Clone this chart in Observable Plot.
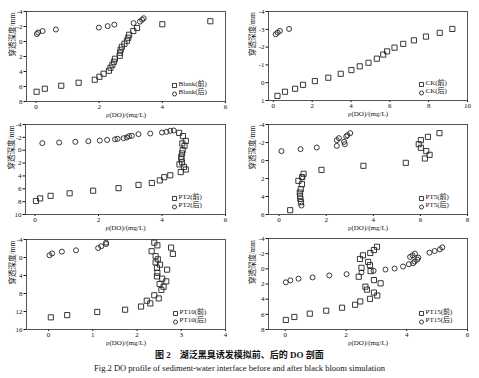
<!DOCTYPE html>
<html><head><meta charset="utf-8">
<script src="https://cdn.jsdelivr.net/npm/d3@7"></script>
<script src="https://cdn.jsdelivr.net/npm/@observablehq/plot@0.6"></script>
<style>
body{margin:0;background:#fff;}
#wrap{position:relative;width:479px;height:378px;background:#fff;overflow:hidden;}
.cap{position:absolute;left:0;width:479px;text-align:center;white-space:nowrap;color:#111;}
</style></head><body>
<div id="wrap"></div>
<script>
// ---- data: DO (mg/L) vs penetration depth (mm) ----
const blankBeforeDO = [0.02,0.28,0.80,1.35,1.86,2.01,2.14,2.31,2.36,2.42,2.47,2.50,2.65,2.66,2.68,2.72,2.80,2.88,2.92,2.95,3.08,3.20,4.00,5.52];
const blankBeforeDepth = [6.7,6.3,5.9,5.5,5.1,4.7,4.3,3.9,3.5,3.1,2.7,2.3,1.9,1.5,1.1,0.7,0.3,-0.1,-0.5,-0.9,-1.4,-1.8,-2.3,-2.7];
const blankAfterDO = [0.03,0.07,0.21,0.63,1.99,2.27,2.48,3.09,3.29,3.36,3.41];
const blankAfterDepth = [-1.0,-1.2,-1.4,-1.6,-1.85,-2.05,-2.25,-2.45,-2.65,-2.9,-3.1];

const ckBeforeDO = [0.21,0.60,1.12,1.53,2.14,2.83,3.47,4.02,4.45,4.90,5.33,5.66,5.86,6.24,6.69,7.24,7.86,8.57,9.22];
const ckBeforeDepth = [0.74,0.51,0.34,0.12,-0.09,-0.28,-0.50,-0.71,-0.92,-1.12,-1.35,-1.58,-1.76,-1.97,-2.18,-2.38,-2.59,-2.80,-3.02];
const ckAfterDO = [0.12,0.22,0.34,0.81];
const ckAfterDepth = [-2.72,-2.82,-2.91,-3.02];

const pt2BeforeDO = [0.03,0.16,0.49,1.09,1.83,2.63,3.26,3.68,3.93,4.07,4.26,4.59,4.75,4.69,4.55,4.63,4.61,4.61,4.63,4.65,4.71,4.64,4.75,4.66,4.54];
const pt2BeforeDepth = [7.9,7.5,7.1,6.7,6.3,5.9,5.4,5.1,4.7,4.2,3.9,3.4,3.0,2.6,2.2,1.9,1.4,1.0,0.5,0.0,-0.7,-1.05,-1.45,-2.2,-2.7];
const pt2AfterDO = [0.23,0.76,1.27,1.68,2.04,2.27,2.52,2.60,2.79,2.89,2.96,3.05,3.26,3.63,4.00,4.14,4.26,4.37];
const pt2AfterDepth = [-1.1,-1.2,-1.3,-1.4,-1.5,-1.6,-1.7,-1.78,-1.87,-1.98,-2.19,-2.24,-2.5,-2.6,-2.76,-2.86,-3.02,-3.07];

const pt5BeforeDO = [0.47,0.93,0.90,0.89,0.88,0.92,0.97,0.82,0.98,1.04,1.80,3.58,5.38,6.19,6.39,6.25,6.02,5.93,6.02,6.32,6.81];
const pt5BeforeDepth = [5.52,4.63,4.26,3.93,3.56,3.19,2.63,2.26,1.85,1.48,1.04,0.59,0.26,-0.22,-0.63,-1.04,-1.41,-1.81,-2.26,-2.63,-3.04];
const pt5AfterDO = [0.10,0.91,1.60,2.45,2.79,2.76,2.45,2.54,2.85,2.90,3.02,0.95,0.98];
const pt5AfterDepth = [-1.04,-1.26,-1.44,-1.63,-1.81,-2.07,-2.26,-2.48,-2.67,-2.81,-3.04,5.0,1.85];

const pt10BeforeDO = [0.05,0.42,1.10,1.73,2.09,2.30,2.22,2.49,2.39,2.55,2.60,2.51,2.57,2.45,2.46,2.45,2.52,2.42,2.47,2.42,2.33,2.46,2.39,2.77,2.81,2.68,2.66];
const pt10BeforeDepth = [13.3,12.8,12.1,11.6,10.9,10.2,9.6,9.1,8.4,7.2,6.5,5.9,4.7,4.2,3.4,2.3,1.6,1.1,0.4,-0.3,-1.4,-2.7,-3.3,-2.2,-0.8,2.7,5.3];
const pt10AfterDO = [0.02,0.08,0.30,0.62,1.12,1.19,1.30,1.30];
const pt10AfterDepth = [-0.5,-0.9,-1.3,-1.6,-2.1,-2.5,-3.0,-3.3];

const pt15BeforeDO = [0.02,0.30,0.81,1.35,1.87,2.30,2.47,2.79,3.03,2.92,2.69,2.64,3.14,2.92,2.42,2.51,2.81,2.79,2.46,2.73,2.56,2.80,2.92,3.02];
const pt15BeforeDepth = [6.74,6.35,5.91,5.52,5.13,4.74,4.30,3.96,3.52,3.13,2.74,2.35,1.91,1.48,1.04,-0.13,0.30,-0.48,-1.30,-0.91,-1.78,-2.09,-2.48,-2.91];
const pt15AfterDO = [0.02,0.17,0.44,0.90,1.45,2.02,2.51,2.91,3.30,3.60,3.88,4.07,4.21,4.26,4.35,4.38,4.11,4.19,4.27,4.75,4.92,5.09,5.17];
const pt15AfterDepth = [1.78,1.52,1.30,1.13,0.87,0.70,0.48,0.26,0.09,-0.04,-0.30,-0.61,-0.74,-0.96,-1.22,-1.48,-1.57,-1.78,-2.00,-2.13,-2.35,-2.57,-2.83];

// ---- labels / ticks ----
const xTitle = "ρ(DO)/(mg/L)";
const yTitle = "穿透深度/mm";
const sampleNames = ["Blank","CK","PT2","PT5","PT10","PT15"];
const xTicks = [[0,2,4,6],[0,2,4,6,8,10],[0,2,4,6],[0,2,4,6,8],[0,1,2,3,4],[0,2,4,6]];
const yTicks = [[-4,-2,0,2,4,6,8],[-4,-3,-2,-1,0,1],[-4,-2,0,2,4,6,8,10],[-4,-2,0,2,4,6],[-4,0,4,8,12,16],[-4,-2,0,2,4,6,8]];
const xDomains = [[-0.3,6],[-0.25,10],[-0.3,6],[-0.45,8],[-0.5,4],[-0.55,6]];
const yDomains = [[-4,8],[-4,1],[-4,10],[-4,6],[-4,16],[-4,8]];
const captionCN = "图 2　湖泛黑臭诱发模拟前、后的 DO 剖面";
const captionEN = "Fig.2 DO profile of sediment-water interface before and after black bloom simulation";

const series = [
  [blankBeforeDO, blankBeforeDepth, blankAfterDO, blankAfterDepth],
  [ckBeforeDO, ckBeforeDepth, ckAfterDO, ckAfterDepth],
  [pt2BeforeDO, pt2BeforeDepth, pt2AfterDO, pt2AfterDepth],
  [pt5BeforeDO, pt5BeforeDepth, pt5AfterDO, pt5AfterDepth],
  [pt10BeforeDO, pt10BeforeDepth, pt10AfterDO, pt10AfterDepth],
  [pt15BeforeDO, pt15BeforeDepth, pt15AfterDO, pt15AfterDepth]
];

// ---- layout ----
const SERIF = '"Liberation Serif","DejaVu Serif","Noto Sans CJK SC",serif';
const frames = [[26,225,11,101],[268,467,11,100],[25,225,124,214],[268,467,124,214],[26,225,239,329],[268,467,238,329]];
const cols = [0,240,0,240,0,240];
const rows = [0,0,113,113,228,228];
const legendX = [51,46,51,46,50,46];
const yTitleDx = [-14,-16,-14,-16,-14,-16];
const wrap = document.getElementById("wrap");
const fmt = d => d < 0 ? "-" + Math.abs(d) : String(d);
const ink = "#222";

series.forEach((s, i) => {
  const W = 239, H = 125;
  const [fl, fr, ft, fb] = frames[i];
  const left = cols[i], top = rows[i];
  const before = s[0].map((x, j) => ({x, y: s[1][j]}));
  const after = s[2].map((x, j) => ({x, y: s[3][j]}));
  const dotStyle = {stroke: ink, strokeWidth: 0.9, fill: "none"};
  const svg = Plot.plot({
    width: W, height: H,
    marginLeft: fl - left, marginRight: left + W - fr,
    marginTop: ft - top, marginBottom: top + H - fb,
    style: {fontFamily: SERIF, fontSize: "7px", background: "transparent", overflow: "visible", color: "#111"},
    x: {domain: xDomains[i], ticks: xTicks[i], tickSize: 2, tickPadding: 0.5, label: null, tickFormat: fmt},
    y: {domain: yDomains[i], reverse: true, ticks: yTicks[i], tickSize: 2.5, tickPadding: 1.5, label: null, tickFormat: fmt},
    marks: [
      Plot.frame({stroke: "#444", strokeWidth: 0.9}),
      Plot.dot(before, {x: "x", y: "y", symbol: "square", r: 2.9, ...dotStyle}),
      Plot.dot(after, {x: "x", y: "y", symbol: "circle", r: 2.5, ...dotStyle}),
      Plot.dot([0], {frameAnchor: "bottom-right", dx: -legendX[i], dy: -16, symbol: "square", r: 2.3, ...dotStyle}),
      Plot.dot([0], {frameAnchor: "bottom-right", dx: -legendX[i], dy: -7.5, symbol: "circle", r: 2.0, ...dotStyle}),
      Plot.text([sampleNames[i] + "(前)"], {frameAnchor: "bottom-right", dx: -legendX[i] + 4, dy: -16, text: d => d, textAnchor: "start", fontSize: 7, fill: "#111"}),
      Plot.text([sampleNames[i] + "(后)"], {frameAnchor: "bottom-right", dx: -legendX[i] + 4, dy: -7.5, text: d => d, textAnchor: "start", fontSize: 7, fill: "#111"}),
      Plot.text([xTitle], {frameAnchor: "bottom", dy: 15, text: d => d, fontSize: 7, fill: "#111"}),
      Plot.text([yTitle], {frameAnchor: "left", dx: yTitleDx[i], rotate: -90, text: d => d, fontSize: 7.5, fill: "#111"})
    ]
  });
  svg.style.position = "absolute";
  svg.style.left = left + "px";
  svg.style.top = top + "px";
  svg.style.maxWidth = "none";
  wrap.appendChild(svg);
});

const c1 = document.createElement("div");
c1.className = "cap";
c1.style.cssText = "top:349px;font:bold 9px/12px " + SERIF + ";";
c1.textContent = captionCN;
wrap.appendChild(c1);
const c2 = document.createElement("div");
c2.className = "cap";
c2.style.cssText = "top:363px;font:8.5px/11px " + SERIF + ";";
c2.textContent = captionEN;
wrap.appendChild(c2);
</script>
</body></html>
